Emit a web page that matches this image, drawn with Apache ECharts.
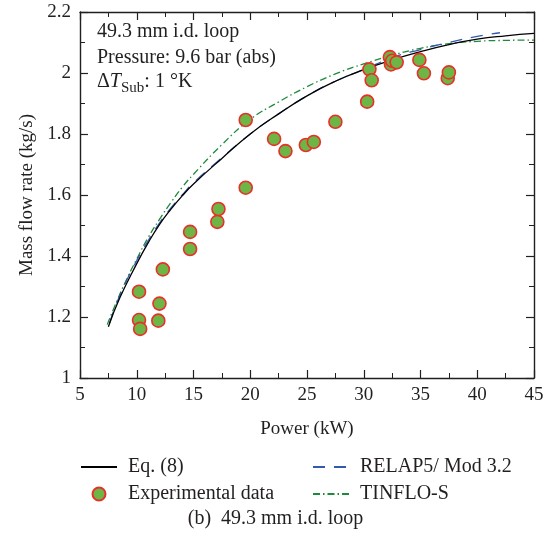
<!DOCTYPE html>
<html>
<head>
<meta charset="utf-8">
<script src="https://cdn.jsdelivr.net/npm/echarts@6/dist/echarts.min.js"></script>
<style>
  html, body { margin: 0; padding: 0; background: #fff; }
  #chart { width: 551px; height: 543px; }
</style>
</head>
<body>
<div id="chart"></div>
<script>
// Eq. (8) curve
const eqPower = [7.5, 8.5, 10, 11, 12, 13, 14, 15, 17.5, 20, 22.5, 25, 27.5, 30, 32.5, 35, 37.5, 40, 42.5, 45]
const eqFlow = [1.168, 1.262, 1.375, 1.443, 1.503, 1.553, 1.597, 1.636, 1.72, 1.8, 1.866, 1.925, 1.973, 2.011, 2.043, 2.07, 2.093, 2.111, 2.122, 2.13]

// RELAP5/ Mod 3.2
const relapPower = [7.6, 8.5, 10, 11, 12, 13, 14, 15, 17.5, 20, 22.5, 25, 27.5, 30, 32.5, 35, 37.5, 40, 42]
const relapFlow = [1.18, 1.27, 1.385, 1.45, 1.508, 1.557, 1.6, 1.64, 1.722, 1.8, 1.866, 1.925, 1.973, 2.011, 2.05, 2.077, 2.1, 2.12, 2.132]

// TINFLO-S
const tinPower = [7.4, 8, 9, 10, 11, 12, 13, 14, 15, 17.5, 20, 22.5, 25, 27.5, 30, 32.5, 35, 37.5, 40, 42.5, 45]
const tinFlow = [1.175, 1.23, 1.315, 1.39, 1.46, 1.52, 1.575, 1.625, 1.668, 1.765, 1.848, 1.905, 1.955, 1.997, 2.03, 2.058, 2.081, 2.096, 2.104, 2.107, 2.108]

// experimental data
const expPower = [10.2, 10.2, 10.3, 12.0, 11.9, 12.3, 14.7, 14.7, 17.1, 17.2, 19.6, 19.6, 22.1, 23.1, 24.9, 25.6, 27.5, 30.3, 30.5, 30.7, 32.3, 32.4, 32.5, 32.9, 34.9, 35.3, 37.4, 37.5]
const expFlow = [1.283, 1.19, 1.161, 1.244, 1.188, 1.356, 1.423, 1.479, 1.512, 1.554, 1.624, 1.846, 1.784, 1.744, 1.764, 1.774, 1.84, 1.906, 2.012, 1.976, 2.052, 2.028, 2.04, 2.035, 2.043, 1.999, 1.983, 2.002]

const xTicks = [5, 45, 5]
const yTicks = [1, 2.2, 0.2]

const ink = '#231f20'
const serif = '"Liberation Serif", "DejaVu Serif", serif'

const zip = (xs, ys) => xs.map((x, i) => [x, ys[i]])

const chart = echarts.init(document.getElementById('chart'))

const axisBits = {
  axisLine: { onZero: false, lineStyle: { color: ink, width: 1.4 } },
  axisTick: { inside: true, length: 8, lineStyle: { color: ink, width: 1.2 } },
  minorTick: { show: true, splitNumber: 2, length: 5, lineStyle: { color: ink, width: 1 } },
  splitLine: { show: false }
}
const xBase = Object.assign({ type: 'value', min: xTicks[0], max: xTicks[1], interval: xTicks[2] }, axisBits)
const yBase = Object.assign({ type: 'value', min: yTicks[0], max: yTicks[1], interval: yTicks[2] }, axisBits)

// line entries: hide the symbol the legend puts on line icons
const lineEntry = name => ({ name, itemStyle: { opacity: 0 } })
const legendBase = {
  top: 457, orient: 'vertical', itemGap: 7, padding: 0,
  itemWidth: 36, itemHeight: 13,
  textStyle: { fontSize: 20, color: ink, fontFamily: serif, padding: [0, 0, 0, 6] }
}

chart.setOption({
  animation: false,
  textStyle: { fontFamily: serif, color: ink },
  grid: { left: 80, right: 17, top: 12, bottom: 165 },
  xAxis: [
    Object.assign({}, xBase, {
      position: 'bottom',
      name: 'Power (kW)', nameLocation: 'middle', nameGap: 42,
      nameTextStyle: { fontSize: 19, color: ink, fontFamily: serif },
      axisLabel: { fontSize: 19, color: ink, margin: 8, fontFamily: serif }
    }),
    Object.assign({}, xBase, { position: 'top', axisLabel: { show: false } })
  ],
  yAxis: [
    Object.assign({}, yBase, {
      position: 'left',
      name: 'Mass flow rate (kg/s)', nameLocation: 'middle', nameGap: 40,
      nameTextStyle: { fontSize: 19, color: ink, fontFamily: serif },
      axisLabel: { fontSize: 19, color: ink, margin: 9, fontFamily: serif }
    }),
    Object.assign({}, yBase, { position: 'right', axisLabel: { show: false } })
  ],
  legend: [
    Object.assign({}, legendBase, {
      left: 80,
      data: [lineEntry('Eq. (8)'), 'Experimental data']
    }),
    Object.assign({}, legendBase, {
      left: 312,
      data: [lineEntry('RELAP5/ Mod 3.2'), lineEntry('TINFLO-S')]
    })
  ],
  series: [
    {
      name: 'TINFLO-S', type: 'line', smooth: true, symbol: 'none',
      data: zip(tinPower, tinFlow),
      lineStyle: { color: '#1e8a3c', width: 1.3, type: [7, 3, 1.5, 3] },
      itemStyle: { color: '#1e8a3c' }
    },
    {
      name: 'RELAP5/ Mod 3.2', type: 'line', smooth: true, symbol: 'none',
      data: zip(relapPower, relapFlow),
      lineStyle: { color: '#3558b0', width: 1.3, type: [12, 9] },
      itemStyle: { color: '#3558b0' }
    },
    {
      name: 'Eq. (8)', type: 'line', smooth: true, symbol: 'none',
      data: zip(eqPower, eqFlow),
      lineStyle: { color: '#000', width: 1.3 },
      itemStyle: { color: '#000' }
    },
    {
      name: 'Experimental data', type: 'scatter', symbol: 'circle', symbolSize: 13,
      data: zip(expPower, expFlow),
      itemStyle: { color: '#6db544', borderColor: '#e8302a', borderWidth: 1.6, opacity: 1 },
      z: 5
    }
  ],
  graphic: [
    {
      type: 'text', left: 97, top: 19,
      style: {
        text: '49.3 mm i.d. loop\nPressure: 9.6 bar (abs)',
        font: '20px ' + serif, fill: ink, lineHeight: 25.5
      }
    },
    {
      type: 'text', left: 97, top: 72,
      style: {
        text: '{n|Δ}{i|T}{s|Sub}{n|: 1 °K}',
        fill: ink,
        rich: {
          n: { font: '20px ' + serif, fill: ink, verticalAlign: 'bottom' },
          i: { font: 'italic 20px ' + serif, fill: ink, verticalAlign: 'bottom' },
          s: { font: '15px ' + serif, fill: ink, verticalAlign: 'bottom', padding: [0, 0, -4, 0] }
        }
      }
    },
    {
      type: 'text', left: 'center', top: 509,
      style: { text: '(b)  49.3 mm i.d. loop', font: '20px ' + serif, fill: ink }
    }
  ]
})
</script>
</body>
</html>
